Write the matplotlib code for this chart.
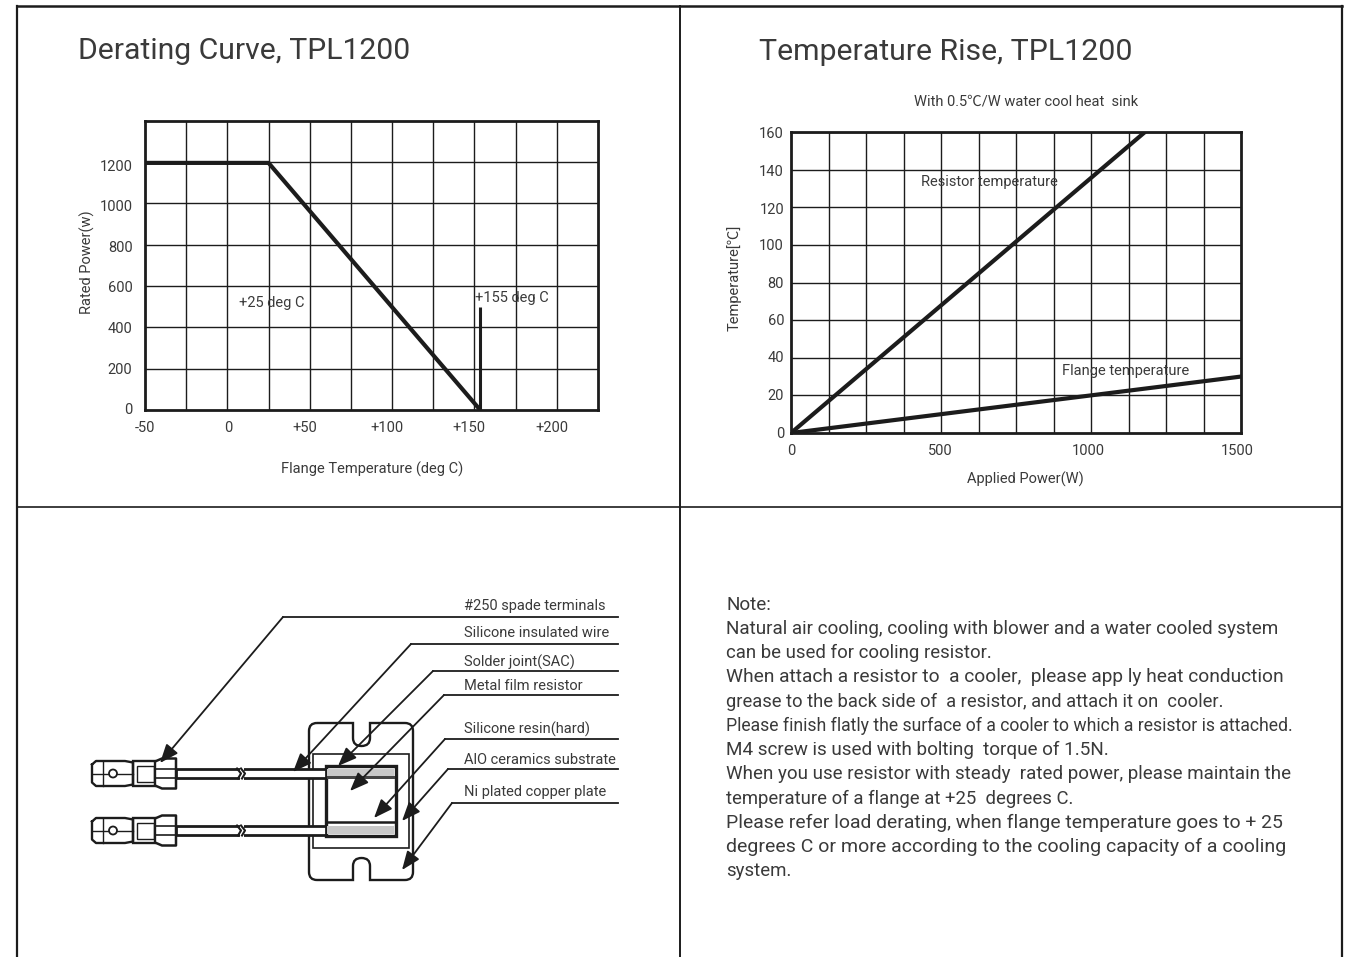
import matplotlib
matplotlib.use('Agg')
import matplotlib.pyplot as plt
from matplotlib.patches import Rectangle, Circle, PathPatch
from matplotlib.path import Path
from matplotlib.transforms import ScaledTranslation

W, H = 1351, 957
LINE = '#1c1c1c'
TEXT = '#3a3a3a'

plt.rcParams['font.family'] = ['Roboto', 'Noto Sans CJK SC', 'DejaVu Sans']

# derating curve
derate_x = [-50, 25, 153.5]
derate_y = [1195, 1195, 0]
limit_x = [153.5, 153.5]
limit_y = [0, 500]
derate_grid_x = [-50, -25, 0, 25, 50, 75, 100, 125, 150, 175, 200, 225]
derate_ticks_x = [-50, 0, 50, 100, 150, 200]
derate_labels_x = ['-50', '0', '+50', '+100', '+150', '+200']
derate_shift_x = [0, 1, -5, -5, -6, -5]
derate_ticks_y = [0, 200, 400, 600, 800, 1000, 1200]
derate_shift_y = [1, 0, 0, -1, -2, -2, -4]

# temperature rise
power = [0, 1500]
resistor_power = [0, 1180]
resistor_temp = [0, 160]
flange_temp = [0, 30]
rise_grid_x = [0, 125, 250, 375, 500, 625, 750, 875, 1000, 1125, 1250, 1375, 1500]
rise_ticks_x = [0, 500, 1000, 1500]
rise_shift_x = [0, -1, -3, -4]
rise_ticks_y = [0, 20, 40, 60, 80, 100, 120, 140, 160]
rise_shift_y = [1, 1, 1, 1, 0, 0, -1, -1, -1]

parts = ['#250 spade terminals', 'Silicone insulated wire', 'Solder joint(SAC)',
         'Metal film resistor', 'Silicone resin(hard)', 'AlO ceramics substrate',
         'Ni plated copper plate']

note_lines = [
    'Note:',
    'Natural air cooling, cooling with blower and a water cooled system',
    'can be used for cooling resistor.',
    'When attach a resistor to  a cooler,  please app ly heat conduction',
    'grease to the back side of  a resistor, and attach it on  cooler.',
    'Please finish flatly the surface of a cooler to which a resistor is attached.',
    'M4 screw is used with bolting  torque of 1.5N.',
    'When you use resistor with steady  rated power, please maintain the',
    'temperature of a flange at +25  degrees C.',
    'Please refer load derating, when flange temperature goes to + 25',
    'degrees C or more according to the cooling capacity of a cooling',
    'system.',
]
note_sizes = [13.6, 13.57, 13.4, 13.75, 13.27, 12.7, 13.55, 13.5, 13.35, 13.93, 14.0, 13.4]

fig = plt.figure(figsize=(W / 100, H / 100), dpi=100)


def axes_px(l, t, r, b):
    return fig.add_axes([l / W, 1 - b / H, (r - l) / W, (b - t) / H])


def style_chart(ax, grid_x, ticks_x, labels_x, shift_x, ticks_y, shift_y, pad_y):
    for x in grid_x[1:-1]:
        ax.axvline(x, color=LINE, lw=1.0, zorder=1)
    for y in ticks_y[1:]:
        ax.axhline(y, color=LINE, lw=1.0, zorder=1)
    for s in ax.spines.values():
        s.set_linewidth(2.0)
        s.set_color(LINE)
    ax.set_xticks(ticks_x, labels_x)
    ax.set_yticks(ticks_y)
    ax.tick_params(length=0, labelsize=10.5, labelcolor=TEXT)
    ax.tick_params(axis='x', pad=8)
    ax.tick_params(axis='y', pad=pad_y)
    for lab, dx in zip(ax.get_xticklabels(), shift_x):
        lab.set_transform(lab.get_transform() + ScaledTranslation(dx / 100, 0, fig.dpi_scale_trans))
    for lab, dy in zip(ax.get_yticklabels(), shift_y):
        lab.set_transform(lab.get_transform() + ScaledTranslation(0, dy / 100, fig.dpi_scale_trans))


# page frame, titles, notes, schematic all drawn in pixel coordinates
page = axes_px(0, 0, W, H)
page.set_xlim(0, W)
page.set_ylim(H, 0)
page.axis('off')
page.plot([17, 17], [6, H], color=LINE, lw=1.6)
page.plot([680, 680], [6, H], color=LINE, lw=1.4)
page.plot([1342, 1342], [6, H], color=LINE, lw=1.6)
page.plot([17, 1342], [6, 6], color=LINE, lw=1.8)
page.plot([17, 1342], [507, 507], color=LINE, lw=1.2)

page.text(78, 51, 'Derating Curve, TPL1200', fontsize=21.7, color=TEXT, va='center')
page.text(759, 52, 'Temperature Rise, TPL1200', fontsize=21.8, color=TEXT, va='center')
page.text(1026, 101, 'With 0.5℃/W water cool heat  sink', fontsize=10.5, color=TEXT,
          ha='center', va='center')

for i, (line, size) in enumerate(zip(note_lines, note_sizes)):
    page.text(726, 604.5 + i * 24.27, line, fontsize=size, color=TEXT, va='center')

# chart 1
ax1 = axes_px(145, 120.5, 598, 410)
ax1.set_xlim(-50, 225)
ax1.set_ylim(0, 1400)
style_chart(ax1, derate_grid_x, derate_ticks_x, derate_labels_x, derate_shift_x,
            derate_ticks_y, derate_shift_y, 9)
ax1.plot(derate_x, derate_y, color=LINE, lw=3.0, zorder=3, solid_capstyle='butt')
ax1.plot(limit_x, limit_y, color=LINE, lw=2.2, zorder=3, solid_capstyle='butt')
ax1.text(27, 517, '+25 deg C', fontsize=10.5, color=TEXT, ha='center', va='center', zorder=4)
ax1.text(173, 541, '+155 deg C', fontsize=10.5, color=TEXT, ha='center', va='center', zorder=4)
ax1.set_xlabel('Flange Temperature (deg C)', fontsize=10.5, color=TEXT)
ax1.xaxis.set_label_coords(0.501, -0.18)
ax1.set_ylabel('Rated Power(w)', fontsize=10.5, color=TEXT)
ax1.yaxis.set_label_coords(-0.111, 0.51)

# chart 2
ax2 = axes_px(791, 132, 1241, 433)
ax2.set_xlim(0, 1500)
ax2.set_ylim(0, 160)
style_chart(ax2, rise_grid_x, rise_ticks_x, [str(t) for t in rise_ticks_x], rise_shift_x,
            rise_ticks_y, rise_shift_y, 5)
ax2.plot(resistor_power, resistor_temp, color=LINE, lw=3.0, zorder=3)
ax2.plot(power, flange_temp, color=LINE, lw=3.0, zorder=3)
ax2.text(433, 133.2, 'Resistor temperature', fontsize=10.5, color=TEXT, va='center', zorder=4)
ax2.text(903, 33, 'Flange temperature', fontsize=10.5, color=TEXT, va='center', zorder=4)
ax2.set_xlabel('Applied Power(W)', fontsize=10.5, color=TEXT)
ax2.xaxis.set_label_coords(0.52, -0.13)
ax2.set_ylabel('Temperature[℃]', fontsize=10.5, color=TEXT)
ax2.yaxis.set_label_coords(-0.109, 0.515)


# schematic
def terminal(cy):
    spade = [(92, cy - 9), (96, cy - 12.5), (125, cy - 12.5), (133, cy - 11), (133, cy + 11),
             (125, cy + 12.5), (96, cy + 12.5), (92, cy + 9), (92, cy - 9)]
    page.plot(*zip(*spade), color=LINE, lw=1.7)
    page.plot([92, 133], [cy, cy], color=LINE, lw=1)
    page.plot([103, 103], [cy - 12, cy + 12], color=LINE, lw=1)
    page.add_patch(Circle((113, cy), 4, fc='white', ec=LINE, lw=1.3, zorder=3))
    page.add_patch(Rectangle((133, cy - 12.5), 22, 25, fc='white', ec=LINE, lw=1.7))
    page.add_patch(Rectangle((137, cy - 8), 17, 16, fc='none', ec=LINE, lw=1))
    sleeve = [(155, cy - 12), (162, cy - 15), (176, cy - 15), (176, cy + 15),
              (162, cy + 15), (155, cy + 12)]
    page.plot(*zip(*sleeve), color=LINE, lw=1.8)
    page.plot([155, 176], [cy - 4.5, cy - 4.5], color=LINE, lw=1.2)
    page.plot([155, 176], [cy + 4.5, cy + 4.5], color=LINE, lw=1.2)


def wire(cy):
    page.add_patch(Rectangle((176, cy - 4.5), 150, 9, fc='white', ec=LINE, lw=2.0, zorder=4))
    page.add_patch(Rectangle((240, cy - 6), 4, 12, fc='white', ec='none', zorder=5))
    page.plot([237, 241, 238], [cy - 5, cy, cy + 5], color=LINE, lw=1.5, zorder=6)
    page.plot([241, 245, 242], [cy - 5, cy, cy + 5], color=LINE, lw=1.5, zorder=6)


plate = Path(
    [(317, 723), (309, 723), (309, 731), (309, 872), (309, 880), (317, 880),
     (353, 880), (353, 866), (353, 858), (361.5, 858), (370, 858), (370, 866), (370, 880),
     (405, 880), (413, 880), (413, 872), (413, 731), (413, 723), (405, 723),
     (370, 723), (370, 738), (370, 746), (361.5, 746), (353, 746), (353, 738), (353, 723),
     (317, 723)],
    [Path.MOVETO, Path.CURVE3, Path.CURVE3, Path.LINETO, Path.CURVE3, Path.CURVE3,
     Path.LINETO, Path.LINETO, Path.CURVE3, Path.CURVE3, Path.CURVE3, Path.CURVE3, Path.LINETO,
     Path.LINETO, Path.CURVE3, Path.CURVE3, Path.LINETO, Path.CURVE3, Path.CURVE3,
     Path.LINETO, Path.LINETO, Path.CURVE3, Path.CURVE3, Path.CURVE3, Path.CURVE3, Path.LINETO,
     Path.LINETO])
page.add_patch(PathPatch(plate, fc='white', ec=LINE, lw=1.7))
page.add_patch(Rectangle((313, 754), 96, 94, fc='white', ec=LINE, lw=1.2))
page.add_patch(Rectangle((326, 766), 70, 70, fc='white', ec=LINE, lw=2.4, zorder=4))
page.add_patch(Rectangle((327, 768.5), 67, 7.5, fc='#c8c8c8', ec='none', zorder=5))
page.add_patch(Rectangle((327, 776), 68, 3, fc='#444444', ec='none', zorder=5))
page.add_patch(Rectangle((327, 826), 67, 8, fc='#c8c8c8', ec='none', zorder=5))
page.plot([326, 396], [822, 822], color=LINE, lw=1.8, zorder=5)
for cy in (773.5, 830.5):
    terminal(cy)
    wire(cy)

label_y = [606, 633, 662, 686, 729, 760, 792]
leader_y = [617, 644, 671, 695, 739, 769, 803]
bend_x = [283, 411, 433, 444, 445, 448, 452]
tip_x = [160, 293, 338, 350, 374, 402, 402]
tip_y = [763, 772, 766, 791, 818, 821, 870]
for name, ly, ry, bx, tx, ty in zip(parts, label_y, leader_y, bend_x, tip_x, tip_y):
    page.text(464, ly, name, fontsize=10.5, color=TEXT, va='center')
    page.plot([618, bx], [ry, ry], color=LINE, lw=1.3, zorder=6)
    page.annotate('', xy=(tx, ty), xytext=(bx, ry), zorder=6,
                  arrowprops=dict(arrowstyle='-|>,head_length=0.95,head_width=0.38', color=LINE,
                                  lw=1.3, shrinkA=0, shrinkB=0, mutation_scale=12))

fig.savefig('out.png', dpi=100)
